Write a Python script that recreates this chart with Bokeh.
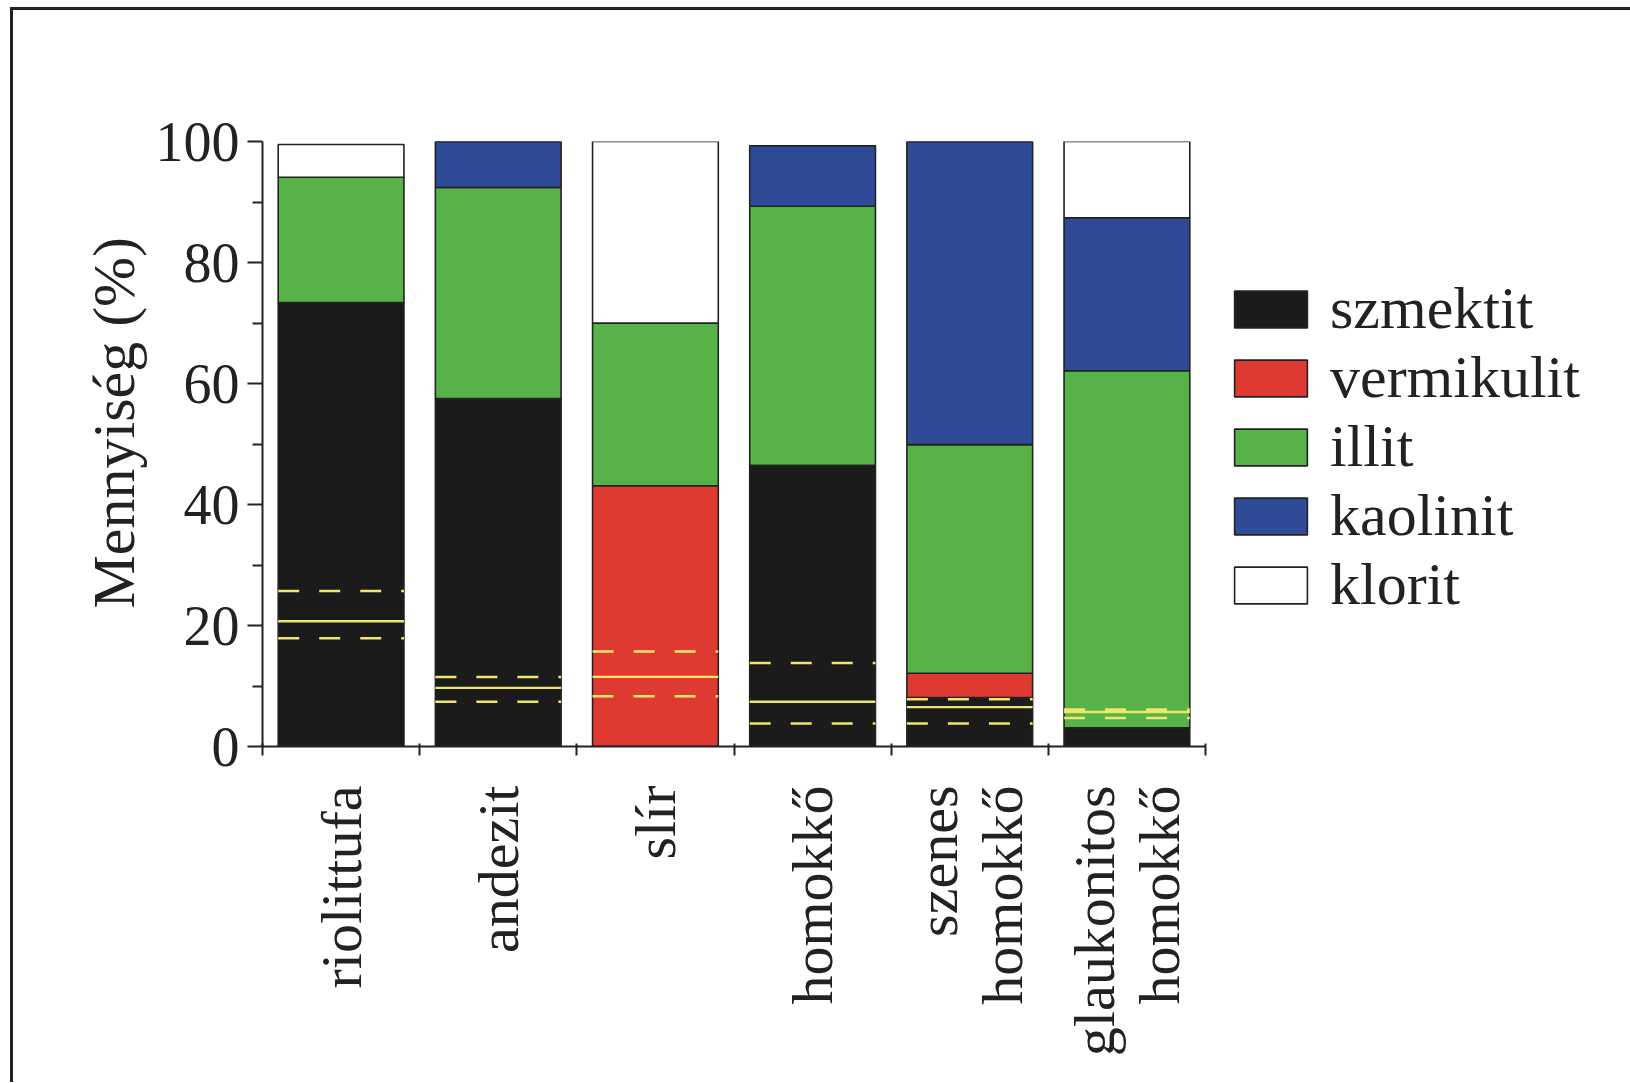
import math
from bokeh.plotting import figure
from bokeh.models import FixedTicker, Legend, LegendItem, Range1d, Title
from bokeh.embed import file_html
from bokeh.resources import INLINE

categories = ["riolittufa", "andezit", "slír", "homokkő", "szenes\nhomokkő", "glaukonitos\nhomokkő"]
minerals = ["szmektit", "vermikulit", "illit", "kaolinit", "klorit"]
szmektit = [73.4, 57.5, 0.0, 46.5, 8.1, 3.1]
vermikulit = [0.0, 0.0, 43.1, 0.0, 4.0, 0.0]
illit = [20.7, 34.9, 26.9, 42.8, 37.8, 59.0]
kaolinit = [0.0, 7.6, 0.0, 10.0, 50.1, 25.3]
klorit = [5.4, 0.0, 30.0, 0.0, 0.0, 12.6]
mean_line = [20.7, 9.7, 11.5, 7.4, 6.5, 5.7]
upper_line = [25.7, 11.5, 15.7, 13.8, 7.8, 6.1]
lower_line = [17.9, 7.4, 8.3, 3.8, 3.8, 4.7]
y_ticks = [0, 20, 40, 60, 80, 100]
y_label = "Mennyiség (%)"

colors = ["#1b1b1b", "#df3a31", "#57b347", "#2f4b98", "#ffffff"]
FONT = "'Liberation Serif'"
INK = "#222222"
BAR_W = 0.8

n = len(categories)
xc = [i + 0.5 for i in range(n)]
x0 = [x - BAR_W / 2 for x in xc]
x1 = [x + BAR_W / 2 for x in xc]

data = dict(x=xc, szmektit=szmektit, vermikulit=vermikulit, illit=illit,
            kaolinit=kaolinit, klorit=klorit)

p = figure(frame_width=943, frame_height=605, output_backend="svg", toolbar_location=None,
           x_range=Range1d(0, n), y_range=Range1d(0, 100),
           min_border_left=249, min_border_right=72, min_border_top=131,
           min_border_bottom=336)
p.styles = {"border-top": "3px solid #222", "border-left": "3px solid #222",
            "border-right": "3px solid #222", "margin-left": "10px", "margin-top": "7px"}
p.outline_line_color = None
p.grid.visible = False
p.background_fill_color = "white"
p.border_fill_color = "white"

renderers = p.vbar_stack(minerals, x="x", width=BAR_W, source=data, color=colors,
                         line_color=INK, line_width=1.6)

# yellow reference lines
p.segment(x0=x0, y0=mean_line, x1=x1, y1=mean_line, line_color="#f1e56c", line_width=2.3)
p.segment(x0=x0, y0=upper_line, x1=x1, y1=upper_line, line_color="#f1e56c",
          line_width=2.6, line_dash="21 20")
p.segment(x0=x0, y0=lower_line, x1=x1, y1=lower_line, line_color="#f1e56c",
          line_width=2.6, line_dash="21 20")

# y axis title (placed slightly above centre as in the original)
ytitle = Title(text=y_label, align="left", offset=138, standoff=12,
               text_font=FONT, text_font_size="60px", text_font_style="normal",
               text_color=INK)
p.add_layout(ytitle, "left")

ya = p.yaxis[0]
ya.ticker = FixedTicker(ticks=y_ticks, minor_ticks=[10, 30, 50, 70, 90])
ya.major_label_text_font = FONT
ya.major_label_text_font_size = "56px"
ya.major_label_text_color = INK
ya.major_label_standoff = 8
ya.major_tick_out = 15
ya.major_tick_in = 0
ya.minor_tick_out = 10
ya.minor_tick_in = 0
ya.axis_line_width = 2
ya.axis_line_color = INK
ya.major_tick_line_width = 2
ya.minor_tick_line_width = 2
ya.major_tick_line_color = INK
ya.minor_tick_line_color = INK

# x axis
xa = p.xaxis[0]
xa.ticker = FixedTicker(ticks=xc, minor_ticks=list(range(n + 1)))
xa.major_label_overrides = {x: c for x, c in zip(xc, categories)}
xa.major_label_orientation = math.pi / 2
xa.major_label_text_font = FONT
xa.major_label_text_font_size = "58px"
xa.major_label_text_color = INK
xa.major_label_text_line_height = 1.0
xa.major_label_standoff = 30
xa.major_tick_out = 0
xa.major_tick_in = 0
xa.major_tick_line_color = None
xa.minor_tick_out = 9
xa.minor_tick_in = 3
xa.minor_tick_line_width = 2
xa.minor_tick_line_color = INK
xa.axis_line_width = 2
xa.axis_line_color = INK

legend = Legend(items=[LegendItem(label=m, renderers=[r]) for m, r in zip(minerals, renderers)],
                location=(20, 127))
legend.border_line_color = None
legend.background_fill_alpha = 0
legend.padding = 0
legend.margin = 0
legend.glyph_width = 91
legend.glyph_height = 46
legend.label_height = 46
legend.spacing = 0
legend.label_standoff = 14
legend.label_text_font = FONT
legend.label_text_font_size = "60px"
legend.label_text_color = INK
p.add_layout(legend, "right")

open("out.html", "w").write(file_html(p, INLINE))
